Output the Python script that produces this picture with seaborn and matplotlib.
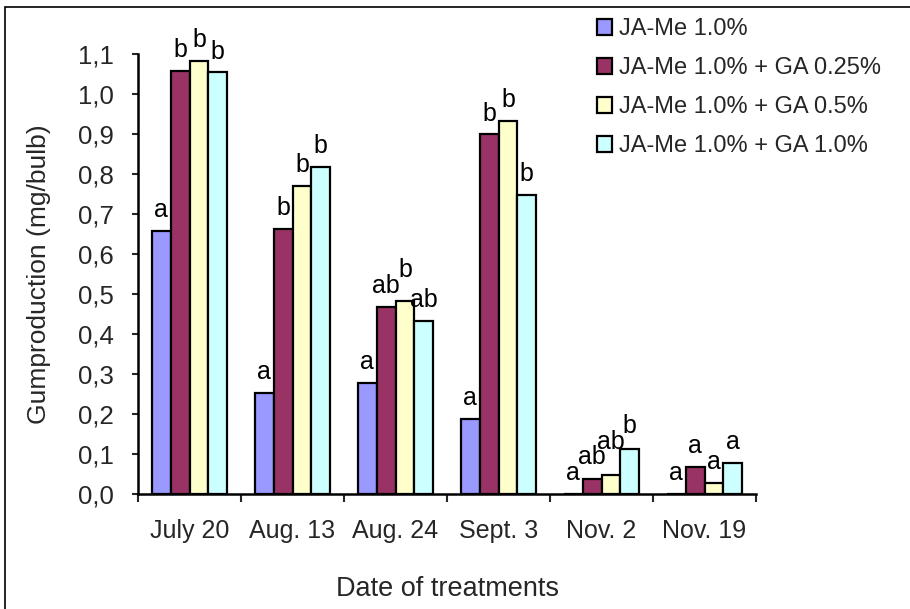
import matplotlib
matplotlib.use("Agg")
import matplotlib.pyplot as plt
import seaborn as sns
import pandas as pd
from matplotlib.patches import Rectangle
from matplotlib.ticker import FuncFormatter, FixedLocator

dates = ["July 20", "Aug. 13", "Aug. 24", "Sept. 3", "Nov. 2", "Nov. 19"]
series = ["JA-Me 1.0%", "JA-Me 1.0% + GA 0.25%", "JA-Me 1.0% + GA 0.5%", "JA-Me 1.0% + GA 1.0%"]
ja_me = [0.658, 0.253, 0.278, 0.187, 0.0, 0.0]
ga_025 = [1.058, 0.663, 0.467, 0.899, 0.037, 0.068]
ga_05 = [1.083, 0.770, 0.483, 0.933, 0.047, 0.027]
ga_10 = [1.054, 0.818, 0.433, 0.748, 0.112, 0.078]
letters_ja_me = ["a", "a", "a", "a", "a", "a"]
letters_ga_025 = ["b", "b", "ab", "b", "ab", "a"]
letters_ga_05 = ["b", "b", "b", "b", "ab", "a"]
letters_ga_10 = ["b", "b", "ab", "b", "b", "a"]
colors = ["#9999FF", "#993366", "#FFFFCC", "#CCFFFF"]

values = [ja_me, ga_025, ga_05, ga_10]
letters = [letters_ja_me, letters_ga_025, letters_ga_05, letters_ga_10]

rows = []
for s, vals in zip(series, values):
    for d, v in zip(dates, vals):
        rows.append({"date": d, "series": s, "value": v})
df = pd.DataFrame(rows)

sns.set_style("white")
plt.rcParams["font.family"] = ["Liberation Sans", "DejaVu Sans"]

fig = plt.figure(figsize=(9.1, 6.09), dpi=100)
ax = fig.add_axes([138 / 910, 1 - 494 / 609, (756 - 138) / 910, (494 - 54) / 609])

sns.barplot(data=df, x="date", y="value", hue="series", order=dates, hue_order=series,
            palette=colors, width=0.73, edgecolor="black", linewidth=1.6,
            saturation=1, errorbar=None, ax=ax, legend=True)

ax.set_ylim(0, 1.1)
ax.set_xlim(-0.5, len(dates) - 0.5)
ax.set_yticks([i / 10 for i in range(12)])
ax.yaxis.set_major_formatter(FuncFormatter(lambda v, p: f"{v:.1f}".replace(".", ",")))
ax.xaxis.set_minor_locator(FixedLocator([i - 0.5 for i in range(len(dates) + 1)]))
ax.tick_params(axis="x", which="major", length=0, pad=18, labelsize=18)
ax.tick_params(axis="x", which="minor", length=6, width=1.5, direction="out", bottom=True)
ax.tick_params(axis="y", which="major", length=4.5, width=1.5, direction="out", left=True,
               labelsize=18.5, pad=13)

for side in ["top", "right"]:
    ax.spines[side].set_visible(False)
for side in ["left", "bottom"]:
    ax.spines[side].set_linewidth(1.8)
    ax.spines[side].set_color("black")

ax.set_xlabel("Date of treatments", fontsize=19.5, labelpad=24)
ax.set_ylabel("Gumproduction (mg/bulb)", fontsize=19, labelpad=19)

handles, labels_ = ax.get_legend_handles_labels()
ax.get_legend().remove()
leg = fig.legend(handles, labels_, loc="upper left", bbox_to_anchor=(597 / 910, 1 - 18 / 609),
                 frameon=False, fontsize=17, handlelength=0.65, handleheight=0.65,
                 handletextpad=0.28, labelspacing=0.72, borderaxespad=0, borderpad=0)

# significance letters above bars, nudged up when they collide with a neighbour
texts = []
for cont, labs in zip(ax.containers, letters):
    for bar, lab in zip(cont, labs):
        x = bar.get_x() + bar.get_width() / 2
        h = bar.get_height()
        t = ax.annotate(lab, (x, h), xytext=(0, 10), textcoords="offset points",
                        ha="center", va="baseline", fontsize=18, color="black",
                        annotation_clip=False)
        texts.append((x, t))

fig.canvas.draw()
renderer = fig.canvas.get_renderer()
order = sorted(texts, key=lambda p: p[0])
placed = []
for x, t in order:
    for _ in range(80):
        bb = t.get_window_extent(renderer)
        hit = False
        for pb in placed:
            if (bb.x0 + 0.5 < pb.x1 - 0.5 and pb.x0 + 0.5 < bb.x1 - 0.5 and
                    bb.y0 + 5 < pb.y1 - 4 and pb.y0 + 5 < bb.y1 - 4):
                hit = True
                break
        if not hit:
            break
        ox, oy = t.xyann
        t.xyann = (ox, oy + 1)
    placed.append(t.get_window_extent(renderer))

fig.patches.append(Rectangle((5 / 910, -0.1), 2, 1 - 7 / 609 + 0.1, transform=fig.transFigure,
                             fill=False, edgecolor="black", linewidth=1.2))

fig.savefig("out.png", dpi=100)
